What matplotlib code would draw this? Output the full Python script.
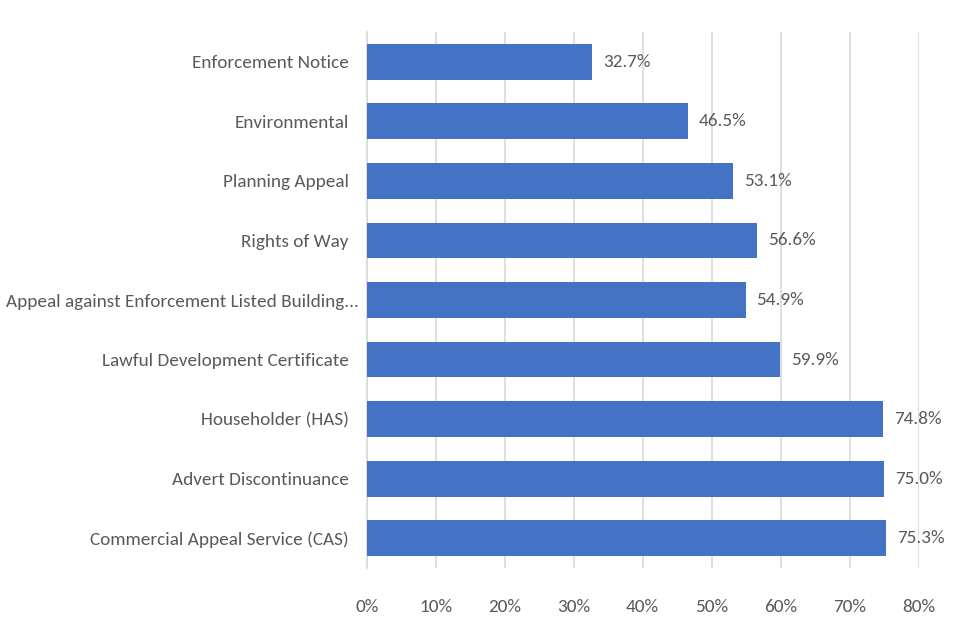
import matplotlib
matplotlib.use("Agg")
import matplotlib.pyplot as plt
from matplotlib.ticker import PercentFormatter
from matplotlib.transforms import ScaledTranslation

plt.rcParams["font.family"] = ["Carlito", "DejaVu Sans"]

categories = [
    "Enforcement Notice",
    "Environmental",
    "Planning Appeal",
    "Rights of Way",
    "Appeal against Enforcement Listed Building...",
    "Lawful Development Certificate",
    "Householder (HAS)",
    "Advert Discontinuance",
    "Commercial Appeal Service (CAS)",
]
values = [32.7, 46.5, 53.1, 56.6, 54.9, 59.9, 74.8, 75.0, 75.3]

text_col = "#595959"
grid_col = "#d9d9d9"
fs = 13.8

fig = plt.figure(figsize=(9.6, 6.4), dpi=100)
ax = fig.add_axes([0.382, 0.1125, 0.575, 0.8375])

ypos = list(range(len(categories)))
ax.barh(ypos, values, height=0.6, color="#4472C4", zorder=3)
for y, v in zip(ypos, values):
    ax.text(v + 1.6, y, f"{v:.1f}%", va="center", ha="left",
            fontsize=fs, color=text_col)

ax.set_yticks(ypos)
ax.set_yticklabels(categories, fontsize=fs, color=text_col)
ax.set_ylim(len(categories) - 0.5, -0.5)
ax.set_xlim(0, 80)
ax.set_xticks(range(0, 81, 10))
ax.xaxis.set_major_formatter(PercentFormatter(decimals=0))
ax.tick_params(axis="x", labelsize=fs, labelcolor=text_col, length=0, pad=22)
ax.tick_params(axis="y", length=0, pad=13)
ax.grid(axis="x", color=grid_col, linewidth=1.2, zorder=0)
for s in ["top", "right", "bottom"]:
    ax.spines[s].set_visible(False)
ax.spines["left"].set_color(grid_col)
ax.spines["left"].set_linewidth(1.2)

# the long truncated label sits closer to the axis, as in the original
long_lab = ax.get_yticklabels()[4]
long_lab.set_transform(long_lab.get_transform()
                       + ScaledTranslation(0.10, 0, fig.dpi_scale_trans))

fig.savefig("out.png", dpi=100)
